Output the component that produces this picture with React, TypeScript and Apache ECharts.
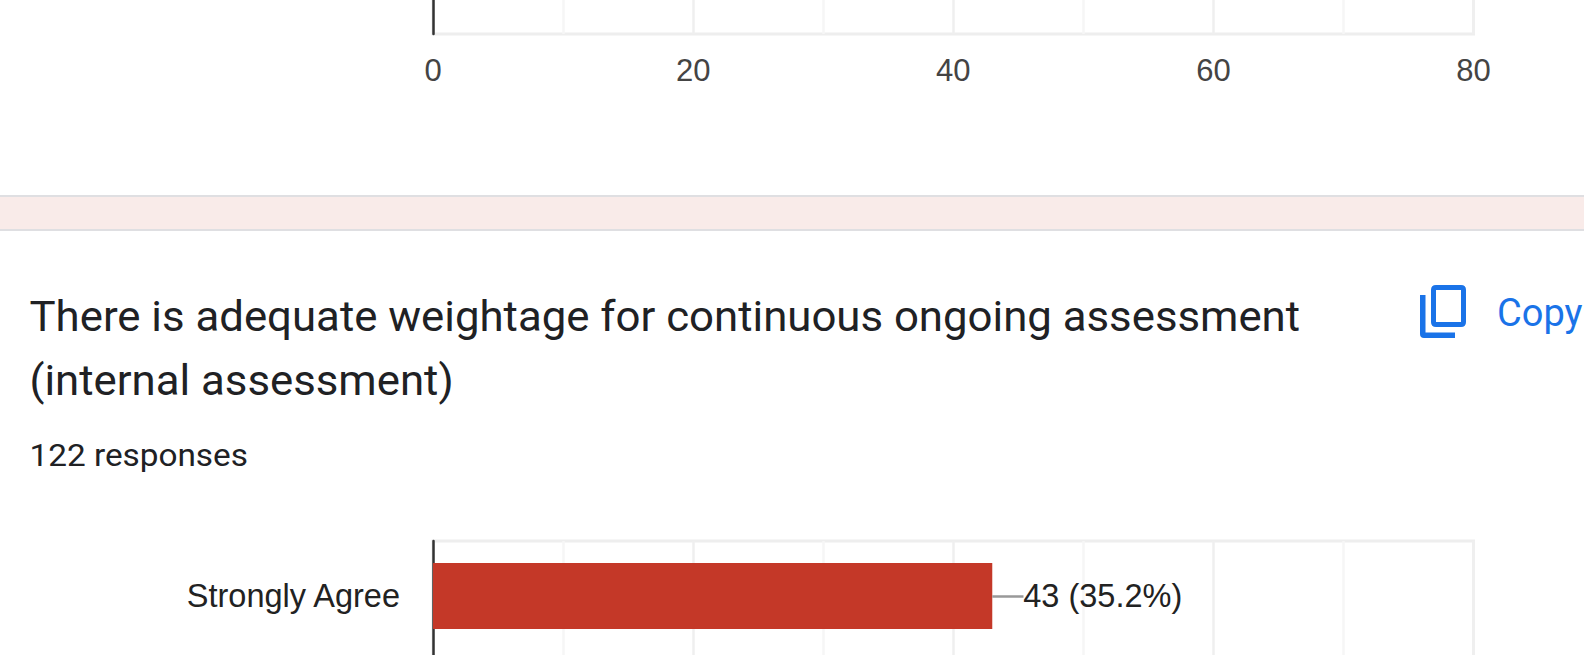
import React, { useEffect, useRef } from "react";
import * as echarts from "echarts";

const axisTicks = [0, 20, 40, 60, 80];
const categories = ["Strongly Agree", ""];
const counts = [43, null];
const percents = ["35.2%", ""];
const leaderEnd = 45.4;
const titleLines = [
  "There is adequate weightage for continuous ongoing assessment",
  "(internal assessment)",
];
const responsesText = "122 responses";
const copyText = "Copy";

const ARIAL = '"Liberation Sans", Arial, sans-serif';
const ROBOTO = "Roboto, sans-serif";
const X0 = 433;
const XW = 1473.5 - 433;

const xAxisBase = {
  type: "value",
  min: axisTicks[0],
  max: axisTicks[axisTicks.length - 1],
  interval: 20,
  axisLine: { show: false },
  axisTick: { show: false },
  splitLine: { show: true, lineStyle: { color: "#efefef", width: 2.5 } },
  minorTick: { show: false, splitNumber: 2 },
  minorSplitLine: { show: true, lineStyle: { color: "#f6f6f6", width: 2.5 } },
};
const yAxisBase = {
  type: "category",
  inverse: true,
  axisTick: { show: false },
  axisLine: { show: true, lineStyle: { color: "#333333", width: 2.5 } },
  splitLine: { show: false },
};

export default function App() {
  const ref = useRef<HTMLDivElement>(null);
  useEffect(() => {
    document.body.style.margin = "0";
    document.body.style.background = "#ffffff";
    echarts.graphic.registerShape(
      "copyIcon",
      echarts.graphic.extendPath(
        "M16 0H41Q46 0 46 5V37Q46 42 41 42H16Q11 42 11 37V5Q11 0 16 0ZM16 5V37H41V5ZM0 10H5.5V47.5H35V53H4Q0 53 0 49Z",
        {}
      ) as any
    );
    const chart = echarts.init(ref.current!, undefined, { renderer: "svg" });
    chart.setOption({
      animation: false,
      backgroundColor: "#ffffff",
      grid: [
        { outerBoundsMode: "none", left: X0, width: XW, top: -100, height: 134, show: true, borderColor: "#eeeeee", borderWidth: 3, backgroundColor: "transparent" },
        { outerBoundsMode: "none", left: X0, width: XW, top: 541, height: 220, show: true, borderColor: "#eeeeee", borderWidth: 3, backgroundColor: "transparent" },
      ],
      xAxis: [
        {
          ...xAxisBase,
          gridIndex: 0,
          axisLabel: { show: true, margin: 21, color: "#444444", fontFamily: ARIAL, fontSize: 31 },
        },
        { ...xAxisBase, gridIndex: 1, axisLabel: { show: false } },
      ],
      yAxis: [
        { ...yAxisBase, gridIndex: 0, data: [""], axisLabel: { show: false } },
        {
          ...yAxisBase,
          gridIndex: 1,
          data: categories,
          axisLabel: { show: true, margin: 33, color: "#222222", fontFamily: ARIAL, fontSize: 32.5 },
        },
      ],
      series: [
        {
          type: "bar",
          xAxisIndex: 1,
          yAxisIndex: 1,
          data: counts,
          barWidth: 66,
          itemStyle: { color: "#c43828" },
          label: {
            show: true,
            position: "right",
            distance: 31,
            color: "#222222",
            fontFamily: ARIAL,
            fontSize: 32.5,
            formatter: (p: any) => `${p.value} (${percents[p.dataIndex]})`,
          },
          markLine: {
            silent: true,
            symbol: "none",
            label: { show: false },
            lineStyle: { color: "#999999", width: 2.5, type: "solid" },
            data: [[{ coord: [counts[0], categories[0]] }, { coord: [leaderEnd, categories[0]] }]],
          },
        },
      ],
      graphic: [
        { type: "rect", z: 10, shape: { x: 0, y: 195, width: 1584, height: 36 }, style: { fill: "#dfdfe2" } },
        { type: "rect", z: 11, shape: { x: 0, y: 197, width: 1584, height: 32 }, style: { fill: "#f9ebe9" } },
        { type: "text", z: 12, x: 29.5, y: 337, scaleX: 1.042, style: { text: titleLines[0], font: `42px ${ROBOTO}`, fill: "#202124", textVerticalAlign: "bottom" } },
        { type: "text", z: 12, x: 29.5, y: 401, scaleX: 1.042, style: { text: titleLines[1], font: `42px ${ROBOTO}`, fill: "#202124", textVerticalAlign: "bottom" } },
        { type: "text", z: 12, x: 29.5, y: 471, scaleX: 1.075, style: { text: responsesText, font: `31px ${ROBOTO}`, fill: "#202124", textVerticalAlign: "bottom" } },
        { type: "copyIcon", z: 12, x: 1420, y: 285, style: { fill: "#1a73e8" } },
        { type: "text", z: 12, x: 1497, y: 332, style: { text: copyText, font: `38px ${ROBOTO}`, fill: "#1a73e8", textVerticalAlign: "bottom" } },
      ],
    });
    return () => chart.dispose();
  }, []);
  return <div ref={ref} style={{ width: 1584, height: 655 }} />;
}
